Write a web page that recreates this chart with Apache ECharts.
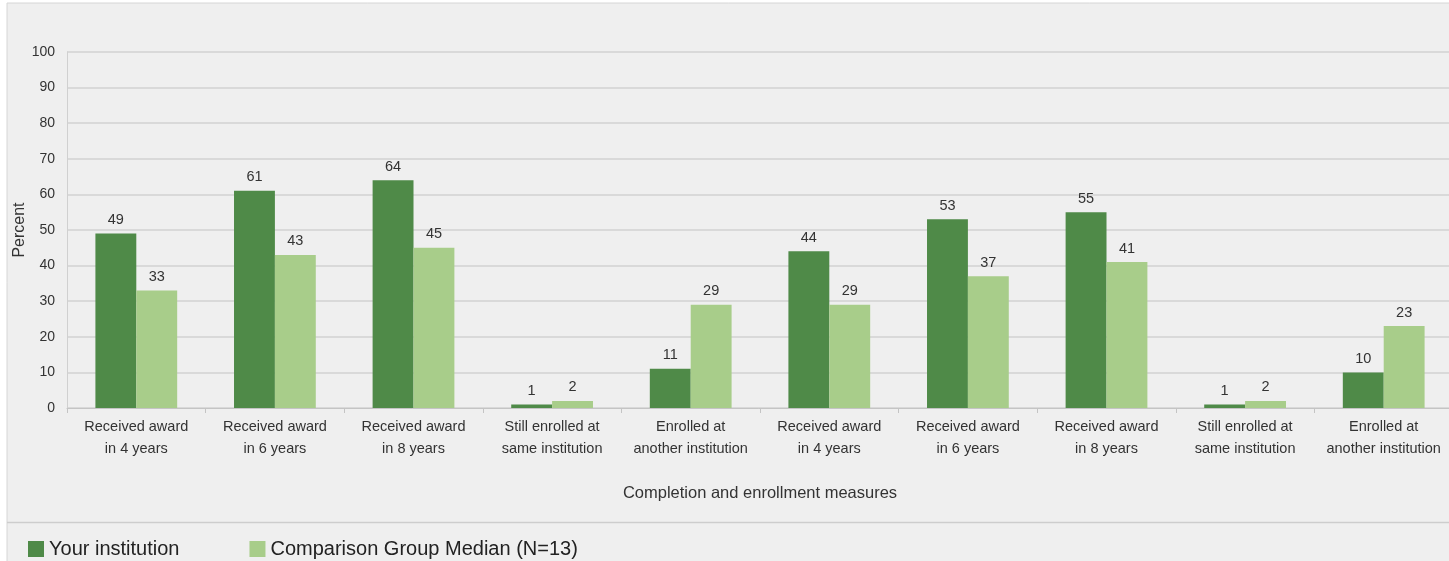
<!DOCTYPE html>
<html><head><meta charset="utf-8">
<script src="https://cdn.jsdelivr.net/npm/echarts@6/dist/echarts.min.js"></script>
<style>html,body{margin:0;padding:0;background:#fff}#c{width:1449px;height:561px}</style>
</head><body><div id="c"></div>
<script>
const categories = [
  'Received award\nin 4 years','Received award\nin 6 years','Received award\nin 8 years',
  'Still enrolled at\nsame institution','Enrolled at\nanother institution',
  'Received award\nin 4 years','Received award\nin 6 years','Received award\nin 8 years',
  'Still enrolled at\nsame institution','Enrolled at\nanother institution'
];
const yourInstitution = [49, 61, 64, 1, 11, 44, 53, 55, 1, 10];
const comparisonMedian = [33, 43, 45, 2, 29, 29, 37, 41, 2, 23];
const seriesNames = ['Your institution', 'Comparison Group Median (N=13)'];

const FONT = '"Liberation Sans",Arial,sans-serif';
const chart = echarts.init(document.getElementById('c'));
chart.setOption({
  animation: false,
  backgroundColor: '#ffffff',
  textStyle: { fontFamily: FONT },
  graphic: [
    { type: 'rect', z: -10, shape: { x: 7, y: 3, width: 1450, height: 570 },
      style: { fill: '#efefef', stroke: '#d6d6d6', lineWidth: 1 } },
    { type: 'line', z: -5, shape: { x1: 7, y1: 522.5, x2: 1449, y2: 522.5 },
      style: { stroke: '#cdcdcd', lineWidth: 1.5 } }
  ],
  grid: { left: 67, right: -4, top: 52, bottom: 153, outerBoundsMode: 'none', containLabel: false },
  legend: {
    left: 23, top: 534, itemWidth: 16, itemHeight: 16, itemGap: 70, icon: 'rect',
    textStyle: { fontFamily: FONT, fontSize: 20, color: '#222' },
    data: seriesNames
  },
  xAxis: {
    type: 'category', data: categories,
    name: 'Completion and enrollment measures', nameLocation: 'middle', nameGap: 77,
    nameTextStyle: { fontFamily: FONT, fontSize: 16.5, color: '#333' },
    axisLine: { lineStyle: { color: '#c4c4c4', width: 1 } },
    axisTick: { show: true, length: 5, lineStyle: { color: '#c4c4c4' } },
    axisLabel: { fontFamily: FONT, fontSize: 14.5, color: '#333', lineHeight: 22, margin: 8, interval: 0 }
  },
  yAxis: {
    type: 'value', min: 0, max: 100, interval: 10,
    name: 'Percent', nameLocation: 'middle', nameGap: 39, nameMoveOverlap: false,
    nameTextStyle: { fontFamily: FONT, fontSize: 16, color: '#333' },
    axisLine: { show: true, lineStyle: { color: '#d0d0d0' } },
    axisTick: { show: false },
    axisLabel: { fontFamily: FONT, fontSize: 14, color: '#333', margin: 12 },
    splitLine: { lineStyle: { color: '#d2d2d2', width: 1.5 } }
  },
  series: [
    { name: seriesNames[0], type: 'bar', data: yourInstitution, barGap: '0%', barCategoryGap: '41%',
      itemStyle: { color: '#4f8a48' },
      label: { show: true, position: 'top', distance: 6, fontFamily: FONT, fontSize: 14.5, color: '#333' } },
    { name: seriesNames[1], type: 'bar', data: comparisonMedian,
      itemStyle: { color: '#a8cd8a' },
      label: { show: true, position: 'top', distance: 6, fontFamily: FONT, fontSize: 14.5, color: '#333' } }
  ]
});
</script></body></html>
